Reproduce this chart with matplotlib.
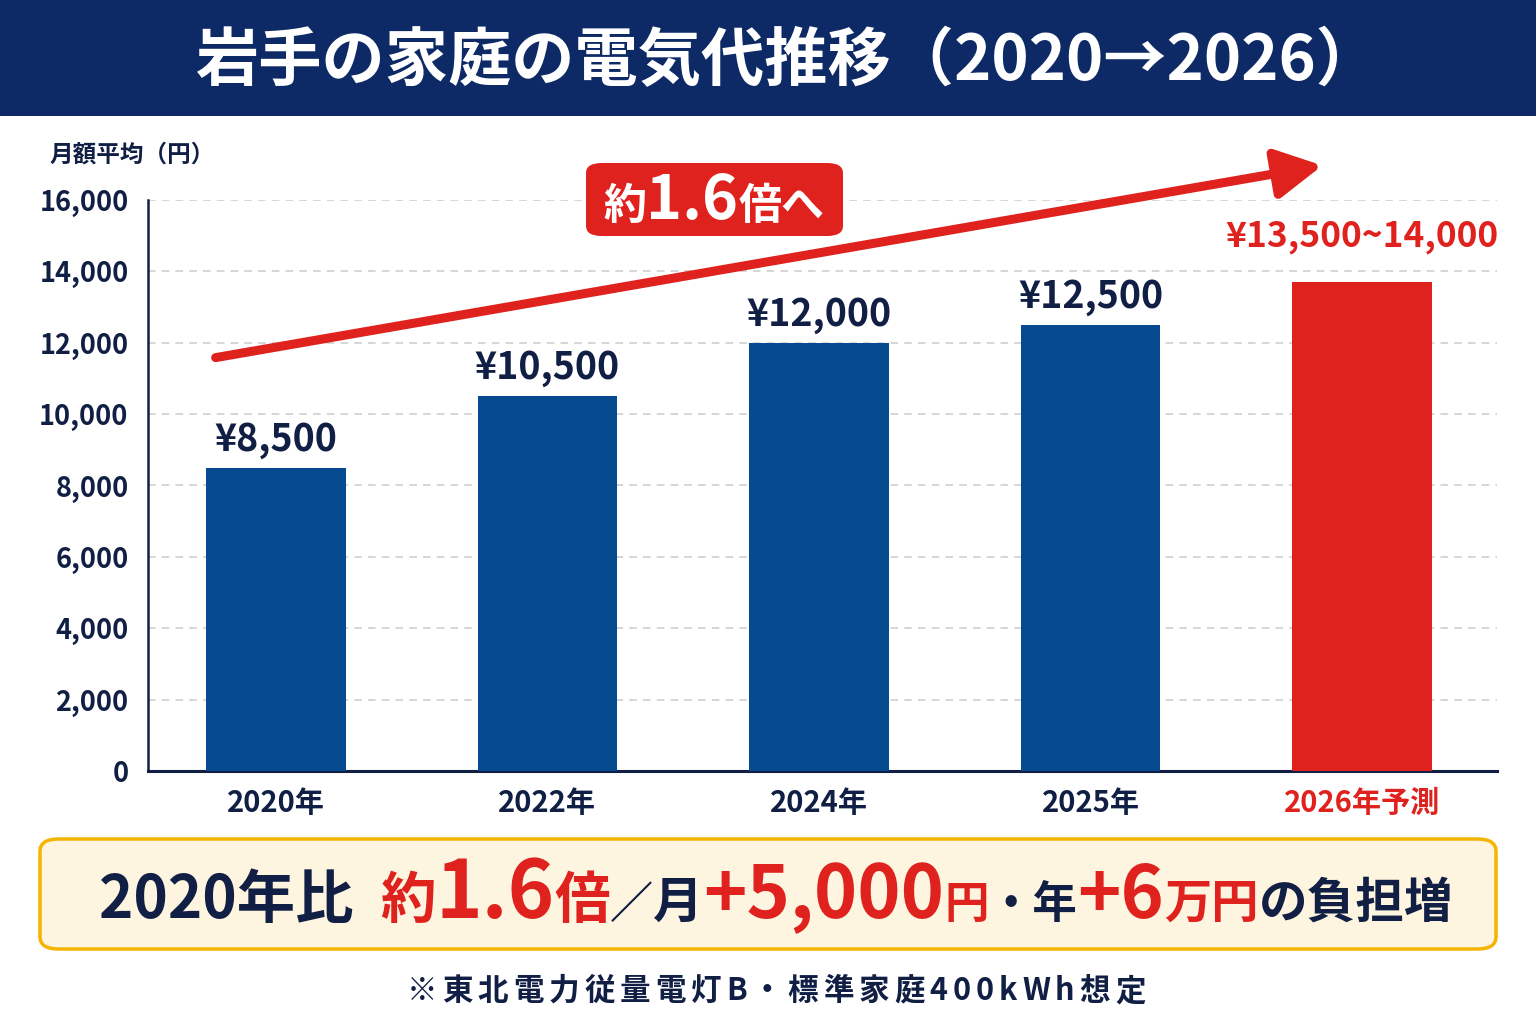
import matplotlib
matplotlib.use("Agg")
import matplotlib.pyplot as plt
from matplotlib.patches import FancyBboxPatch, Rectangle, FancyArrowPatch

plt.rcParams['font.family'] = ['Noto Sans CJK JP', 'DejaVu Sans']

# data
years = ["2020年", "2022年", "2024年", "2025年", "2026年予測"]
values = [8500, 10500, 12000, 12500, 13700]
value_labels = ["¥8,500", "¥10,500", "¥12,000", "¥12,500", "¥13,500~14,000"]
yticks = list(range(0, 16001, 2000))

NAVY = "#0d2a66"
TEXT = "#111f45"
BLUE = "#064b8f"
RED = "#e0221e"

W, H = 1536, 1024
fig = plt.figure(figsize=(W / 100, H / 100), dpi=100)
fig.patch.set_facecolor("white")


def fx(px):
    return px / W


def fy(py):
    return 1 - py / H


# title banner
fig.patches.append(Rectangle((0, fy(116)), 1, 116 / H, transform=fig.transFigure,
                             facecolor=NAVY, edgecolor="none", zorder=0))
fig.text(fx(788), fy(62), "岩手の家庭の電気代推移（2020→2026）", color="white",
         fontsize=45.5, fontweight="bold", ha="center", va="center")

# axes
ax = fig.add_axes([fx(148), fy(771), fx(1497) - fx(148), fy(200) - fy(771)])
x = list(range(len(years)))
colors = [BLUE] * 4 + [RED]
ax.bar(x, values, width=0.515, color=colors, zorder=3)
ax.set_xlim(-0.471, 4.497)
ax.set_ylim(0, 16000)
ax.set_yticks(yticks)
ax.set_yticklabels([f"{v:,}" for v in yticks], fontsize=19.5, fontweight="bold", color=TEXT)
ax.set_xticks(x)
ax.set_xticklabels(years, fontsize=21, fontweight="bold")
for lab, c in zip(ax.get_xticklabels(), [TEXT] * 4 + [RED]):
    lab.set_color(c)
ax.tick_params(axis="both", length=0)
ax.tick_params(axis="y", pad=14)
ax.tick_params(axis="x", pad=12)
for s in ["top", "right"]:
    ax.spines[s].set_visible(False)
ax.spines["left"].set_color(TEXT)
ax.spines["bottom"].set_color(TEXT)
ax.spines["left"].set_linewidth(1.8)
ax.spines["bottom"].set_linewidth(2.2)
ax.yaxis.grid(True, linestyle=(0, (5, 4)), color="#cccccc", linewidth=1.1, zorder=0)
ax.set_axisbelow(True)

for i, (v, lab) in enumerate(zip(values, value_labels)):
    c = RED if i == 4 else TEXT
    off = 780 if i == 4 else 250
    fs = 25.5 if i == 4 else 27
    ax.text(i, v + off, lab, ha="center", va="bottom", fontsize=fs,
            fontweight="bold", color=c, zorder=5)

# y axis title
fig.text(fx(50), fy(155), "月額平均（円）", fontsize=17, fontweight="bold",
         color=TEXT, ha="left", va="center")

# trend arrow
arr = FancyArrowPatch((-0.232, 11570), (3.864, 16980),
                      arrowstyle="-|>,head_length=1.4,head_width=0.75",
                      mutation_scale=20, color=RED, linewidth=6.5,
                      clip_on=False, zorder=6)
ax.add_patch(arr)

# badge
fig.patches.append(FancyBboxPatch((fx(586), fy(236)), fx(843) - fx(586), (236 - 163) / H,
                                  boxstyle="round,pad=0,rounding_size=0.01",
                                  transform=fig.transFigure, facecolor=RED,
                                  edgecolor="none", zorder=7))

fig.canvas.draw()
renderer = fig.canvas.get_renderer()


def run_text(pieces, x0, y0, align="left", track=0):
    # lay pieces left to right, baseline aligned
    items = []
    total = 0
    for s, size, col in pieces:
        t = fig.text(0, fy(y0), s, fontsize=size, color=col, fontweight="bold",
                     ha="left", va="baseline", zorder=9)
        w = t.get_window_extent(renderer).width
        items.append((t, w))
        total += w + track
    total -= track
    start = x0 - total / 2 if align == "center" else x0
    cur = start
    for t, w in items:
        t.set_x(fx(cur))
        cur += w + track


run_text([("約", 31, "white"), ("1.6", 44, "white"), ("倍へ", 31, "white")],
         714, 219, align="center")

# bottom summary box
fig.patches.append(FancyBboxPatch((fx(40), fy(949)), fx(1496) - fx(40), (949 - 839) / H,
                                  boxstyle="round,pad=0,rounding_size=0.012",
                                  transform=fig.transFigure, facecolor="#fdf5df",
                                  edgecolor="#f4b400", linewidth=2.5, zorder=1))
run_text([("2020年比  ", 42, TEXT), ("約", 40, RED), ("1.6", 57, RED), ("倍", 40, RED),
          ("／", 31, TEXT), ("月", 36, TEXT), ("+5,000", 53, RED), ("円", 32, RED),
          ("・年", 32, TEXT), ("+6", 53, RED), ("万円", 34, RED), ("の負担増", 35, TEXT)],
         776, 918, align="center")

# footnote
run_text([(ch, 22, TEXT) for ch in "※東北電力従量電灯B・標準家庭400kWh想定"],
         776, 1000, align="center", track=5)

fig.savefig("out.png", dpi=100, facecolor="white")
